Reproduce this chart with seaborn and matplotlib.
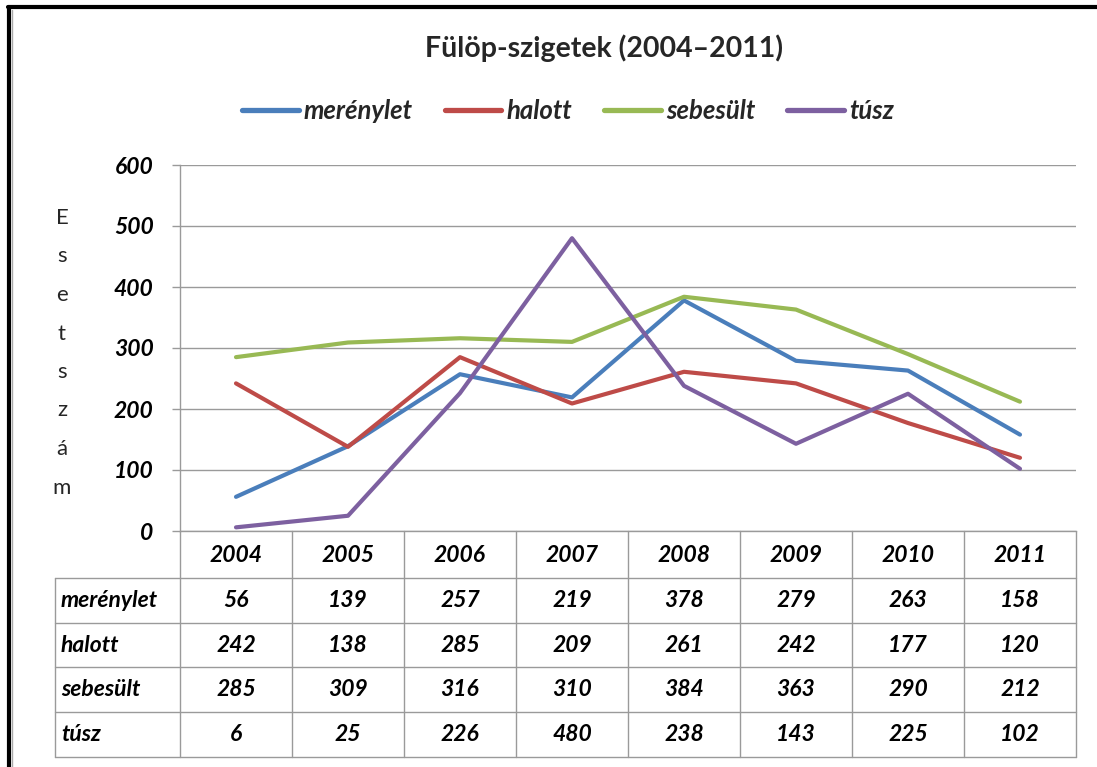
import pandas as pd
import matplotlib.pyplot as plt
import seaborn as sns
from matplotlib.lines import Line2D

years = ['2004', '2005', '2006', '2007', '2008', '2009', '2010', '2011']
series = ['merénylet', 'halott', 'sebesült', 'túsz']
merenylet = [56, 139, 257, 219, 378, 279, 263, 158]
halott = [242, 138, 285, 209, 261, 242, 177, 120]
sebesult = [285, 309, 316, 310, 384, 363, 290, 212]
tusz = [6, 25, 226, 480, 238, 143, 225, 102]
colors = ['#4A7EBB', '#BE4B48', '#98B954', '#7D60A0']
yticks = [0, 100, 200, 300, 400, 500, 600]

values = [merenylet, halott, sebesult, tusz]
rows = []
for name, vals in zip(series, values):
    for i, v in enumerate(vals):
        rows.append({'pos': i + 0.5, 'year': years[i], 'series': name, 'value': v})
df = pd.DataFrame(rows)

sns.set_style('white')
plt.rcParams['font.family'] = ['Lato', 'DejaVu Sans']

W, H = 1097, 767
fig = plt.figure(figsize=(W / 100, H / 100), dpi=100)

def box(x0, y0, x1, y1):
    return [x0 / W, 1 - y1 / H, (x1 - x0) / W, (y1 - y0) / H]

grey = '#9A9A9A'
tf = dict(fontsize=16.5, fontweight='bold', fontstyle='italic', color='black')

# main chart
ax = fig.add_axes(box(180, 165, 1076, 531))
sns.lineplot(data=df, x='pos', y='value', hue='series', palette=colors,
             linewidth=3.0, legend=False, ax=ax, sort=False)
ax.set_xlim(0, 8)
ax.set_ylim(0, 600)
ax.set_xticks([])
ax.set_yticks(yticks)
ax.set_yticklabels([str(t) for t in yticks], **tf)
ax.tick_params(axis='y', length=6, color=grey, width=1, pad=13, left=True)
ax.grid(axis='y', color=grey, linewidth=1)
ax.set_axisbelow(True)
for s in ['top', 'right']:
    ax.spines[s].set_visible(False)
for s in ['left', 'bottom']:
    ax.spines[s].set_color(grey)
    ax.spines[s].set_linewidth(1)
ax.set_xlabel('')
ax.set_ylabel('')

# data table below
tab = fig.add_axes(box(55, 531, 1076, 757))
lab_w = 125 / 112
tab.set_xlim(-lab_w, 8)
tab.set_ylim(226, 0)
tab.axis('off')
row_edges = [0, 47, 92, 136, 181, 226]
for y in row_edges[1:]:
    tab.plot([-lab_w, 8], [y, y], color=grey, lw=1, clip_on=False)
tab.plot([-lab_w, -lab_w], [47, 226], color=grey, lw=1, clip_on=False)
for i in range(9):
    tab.plot([i, i], [0, 226], color=grey, lw=1, clip_on=False)
for i, yr in enumerate(years):
    tab.text(i + 0.5, 24, yr, ha='center', va='center', **tf)
for r, (name, vals) in enumerate(zip(series, values)):
    yc = (row_edges[r + 1] + row_edges[r + 2]) / 2
    tab.text(-lab_w + 6 / 112, yc, name, ha='left', va='center', **tf)
    for i, v in enumerate(vals):
        tab.text(i + 0.5, yc, str(v), ha='center', va='center', **tf)

# title, legend, axis label
fig.text(604 / W, 1 - 48 / H, 'Fülöp-szigetek (2004–2011)', ha='center', va='center',
         fontsize=20.5, fontweight='bold')
handles = [Line2D([], [], color=c, lw=3.8, solid_capstyle='round') for c in colors]
fig.legend(handles, series, loc='center', bbox_to_anchor=(568 / W, 1 - 111 / H), ncol=4,
           frameon=False, handlelength=2.2, handletextpad=0.2, columnspacing=1.25,
           prop=dict(size=18.5, weight='bold', style='italic'))
for k, ch in enumerate('Esetszám'):
    fig.text(62 / W, 1 - (218 + k * 38.5) / H, ch, ha='center', va='center', fontsize=16)

# outer frame (top and left edges)
fig.add_artist(Line2D([8 / W, 1], [1 - 7 / H, 1 - 7 / H], color='black', lw=3))
fig.add_artist(Line2D([9 / W, 9 / W], [0, 1 - 7 / H], color='black', lw=3))
fig.add_artist(Line2D([12 / W, 12 / W], [0, 1 - 10 / H], color='#AAAAAA', lw=1))

fig.savefig('out.png', dpi=100)
